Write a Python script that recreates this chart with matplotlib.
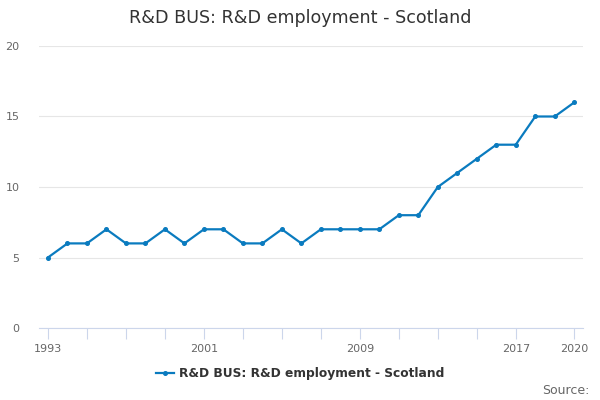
import matplotlib
matplotlib.use("Agg")
import matplotlib.pyplot as plt

years = list(range(1993, 2021))
values = [5, 6, 6, 7, 6, 6, 7, 6, 7, 7, 6, 6, 7, 6, 7, 7, 7, 7, 8, 8,
          10, 11, 12, 13, 13, 15, 15, 16]
tick_years = [1993, 1995, 1997, 1999, 2001, 2003, 2005, 2007, 2009,
              2011, 2013, 2015, 2017, 2020]
label_years = [1993, 2001, 2009, 2017, 2020]
yticks = [0, 5, 10, 15, 20]
series_name = "R&D BUS: R&D employment - Scotland"

fig = plt.figure(figsize=(6, 4), dpi=100)
ax = fig.add_axes([0.065, 0.18, 0.907, 0.705])

ax.plot(years, values, color="#0a7bbf", linewidth=1.6, marker="o",
        markersize=2.6, label=series_name, zorder=3)

ax.set_xlim(1992.54, 2020.46)
ax.set_ylim(0, 20)
ax.set_yticks(yticks)
ax.set_yticklabels([str(v) for v in yticks])
ax.set_xticks(tick_years)
ax.set_xticklabels([str(y) if y in label_years else "" for y in tick_years])

ax.grid(axis="y", color="#e6e6e6", linewidth=0.8)
ax.set_axisbelow(True)
for side in ["top", "right", "left"]:
    ax.spines[side].set_visible(False)
ax.spines["bottom"].set_color("#ccd6eb")
ax.tick_params(axis="x", colors="#ccd6eb", length=8, width=0.8,
               labelcolor="#666666", labelsize=8)
ax.tick_params(axis="y", length=0, labelcolor="#666666", labelsize=8, pad=14)

fig.text(0.5, 0.955, series_name, ha="center", va="center",
         fontsize=12.6, color="#333333")
fig.legend(loc="center", bbox_to_anchor=(0.5, 0.065), frameon=False,
           prop={"weight": "bold", "size": 8.8}, labelcolor="#333333",
           handlelength=1.5, handletextpad=0.4)
fig.text(0.982, 0.025, "Source:", ha="right", va="center",
         fontsize=9, color="#666666")

fig.savefig("out.png", dpi=100)
